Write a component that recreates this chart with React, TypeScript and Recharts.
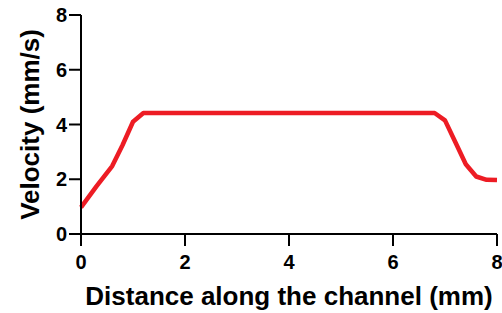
import { LineChart, Line, XAxis, YAxis } from "recharts";

// distance along the channel (mm) and measured velocity (mm/s)
const distance = [0, 0.3, 0.6, 0.8, 1.0, 1.2, 2, 3, 4, 5, 6, 6.8, 7.0, 7.2, 7.4, 7.6, 7.8, 8.0];
const velocity = [0.97, 1.75, 2.48, 3.25, 4.1, 4.42, 4.42, 4.42, 4.42, 4.42, 4.42, 4.42, 4.15, 3.35, 2.55, 2.1, 1.98, 1.97];
const xTicks = [0, 2, 4, 6, 8];
const yTicks = [0, 2, 4, 6, 8];

const data = distance.map((d, i) => ({ d, v: velocity[i] }));

const FONT = "'Liberation Sans', Arial, sans-serif";
const TICK = { fontSize: 20, fontWeight: 700, fill: "#000", fontFamily: FONT };
const TITLE = { fontSize: 26, fontWeight: 700, fill: "#000", fontFamily: FONT };

export default function App() {
  return (
    <div style={{ position: "absolute", left: 0, top: 0, background: "#fff" }}>
      <LineChart width={502} height={313} data={data}
                 margin={{ top: 15, right: 5, left: 0, bottom: 0 }}>
        <XAxis dataKey="d" type="number" domain={[0, 8]} ticks={xTicks}
               height={79} tickSize={12} tickMargin={9} tick={TICK}
               axisLine={{ stroke: "#000", strokeWidth: 2 }}
               tickLine={{ stroke: "#000", strokeWidth: 2 }}
               label={{ value: "Distance along the channel (mm)", position: "insideBottom", offset: 8, style: TITLE }} />
        <YAxis type="number" domain={[0, 8]} ticks={yTicks}
               width={81} tickSize={12} tickMargin={2} tick={TICK}
               axisLine={{ stroke: "#000", strokeWidth: 2 }}
               tickLine={{ stroke: "#000", strokeWidth: 2 }}
               label={{ value: "Velocity (mm/s)", angle: -90, position: "insideLeft", offset: 30,
                        style: { ...TITLE, textAnchor: "middle" } }} />
        <Line type="linear" dataKey="v" stroke="#ED1C24" strokeWidth={4.5}
              dot={false} isAnimationActive={false} strokeLinejoin="round" />
      </LineChart>
    </div>
  );
}
